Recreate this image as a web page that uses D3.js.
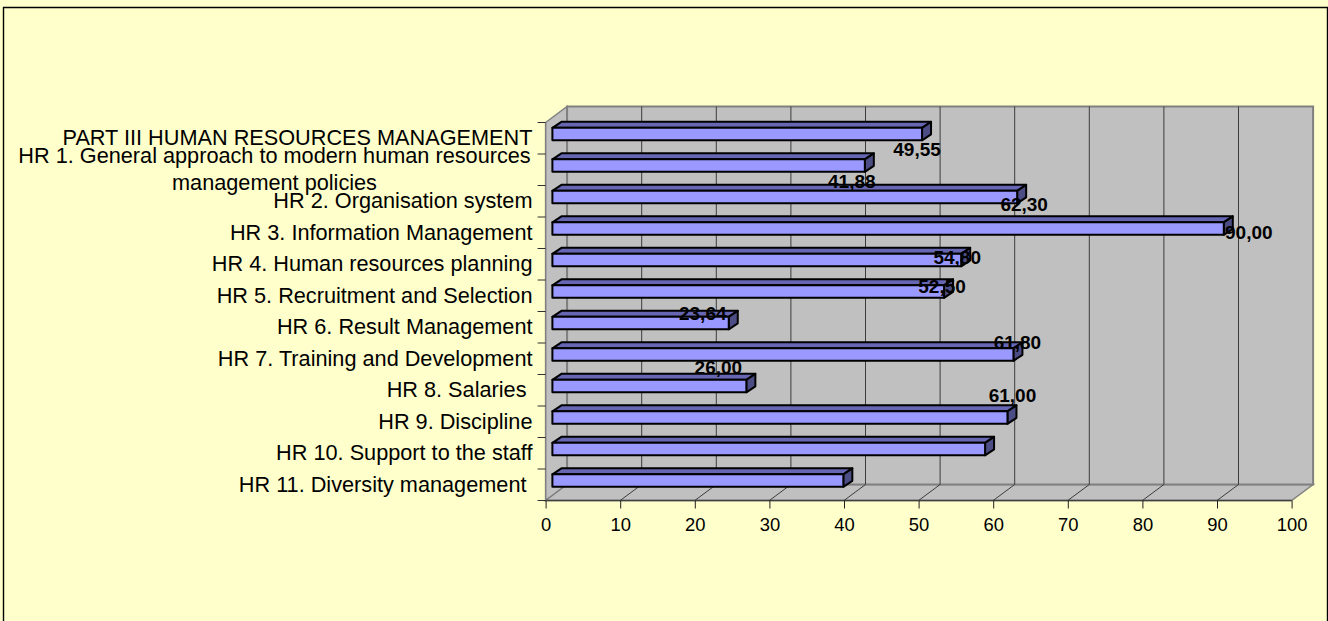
<!DOCTYPE html>
<html>
<head>
<meta charset="utf-8">
<script src="https://d3js.org/d3.v7.min.js"></script>
<style>
html, body { margin: 0; padding: 0; background: #fff; }
svg { display: block; }
text { font-family: "Liberation Sans", Arial, sans-serif; fill: #000; }
</style>
</head>
<body>
<div id="chart"></div>
<script>
var categories = [
    "PART III HUMAN RESOURCES MANAGEMENT",
    "HR 1. General approach to modern human resources management policies",
    "HR 2. Organisation system",
    "HR 3. Information Management",
    "HR 4. Human resources planning",
    "HR 5. Recruitment and Selection",
    "HR 6. Result Management",
    "HR 7. Training and Development",
    "HR 8. Salaries ",
    "HR 9. Discipline",
    "HR 10. Support to the staff",
    "HR 11. Diversity management "
];
var values = [49.55, 41.88, 62.30, 90.00, 54.80, 52.50, 23.64, 61.80, 26.00, 61.00, 58, 39];
// the last two bars have no data label in the picture
var valueLabels = ["49,55", "41,88", "62,30", "90,00", "54,80", "52,50", "23,64", "61,80", "26,00", "61,00", "", ""];
var xTicks = [0, 10, 20, 30, 40, 50, 60, 70, 80, 90, 100];

// hand placed data labels, offset from the bar end [dx, dy]
var labelNudge = [[-5, 15], [-13, 16], [7, 7], [25, 4], [-4, -3], [-2, -5], [-26, -10], [4, -12], [-28, -19], [5, -22], [0, 0], [0, 0]];

var w = 1328;
var h = 621;
var depthX = 21.5;   // wall offset
var depthY = -16;
var barDX = 9;       // bar depth
var barDY = -6;
var barH = 12.5;

var xScale = d3.scaleLinear().domain([0, 100]).range([545.6, 1291.6]);
var yScale = d3.scaleBand().domain(d3.range(categories.length)).range([122.5, 500.5]);

var svg = d3.select("#chart").append("svg").attr("width", w).attr("height", h);

// frame
svg.append("rect").attr("width", w).attr("height", h).attr("fill", "#ffffcc");
svg.append("path")
    .attr("d", "M3.5," + h + "V7.5H1327.5V" + h)
    .attr("fill", "none")
    .attr("stroke", "#000")
    .attr("stroke-width", 1.4);

var x0 = xScale(0), x1 = xScale(100), yTop = yScale.range()[0], yBot = yScale.range()[1];

// walls and floor
var wallStroke = "#808080";
svg.append("polygon")
    .attr("points", [[x0, yTop], [x0 + depthX, yTop + depthY], [x0 + depthX, yBot + depthY], [x0, yBot]].join(" "))
    .attr("fill", "#c0c0c0").attr("stroke", wallStroke).attr("stroke-width", 1.5);
svg.append("polygon")
    .attr("points", [[x0, yBot], [x0 + depthX, yBot + depthY], [x1 + depthX, yBot + depthY], [x1, yBot]].join(" "))
    .attr("fill", "#c0c0c0").attr("stroke", wallStroke).attr("stroke-width", 1.5);
svg.append("polygon")
    .attr("points", [[x0 + depthX, yTop + depthY], [x1 + depthX, yTop + depthY], [x1 + depthX, yBot + depthY], [x0 + depthX, yBot + depthY]].join(" "))
    .attr("fill", "#c0c0c0").attr("stroke", wallStroke).attr("stroke-width", 2);

// gridlines on the back wall and floor
var inner = xTicks.slice(1, -1);
svg.selectAll(".grid").data(inner).enter().append("line")
    .attr("class", "grid")
    .attr("x1", function(d) { return xScale(d) + depthX; })
    .attr("x2", function(d) { return xScale(d) + depthX; })
    .attr("y1", yTop + depthY)
    .attr("y2", yBot + depthY)
    .attr("stroke", "#3c3c3c");
svg.selectAll(".floor").data(inner).enter().append("line")
    .attr("class", "floor")
    .attr("x1", function(d) { return xScale(d); })
    .attr("x2", function(d) { return xScale(d) + depthX; })
    .attr("y1", yBot)
    .attr("y2", yBot + depthY)
    .attr("stroke", "#3c3c3c");

// front axis lines
svg.append("line").attr("x1", x0).attr("x2", x1).attr("y1", yBot).attr("y2", yBot).attr("stroke", "#404040").attr("stroke-width", 1.4);
svg.append("line").attr("x1", x0).attr("x2", x0).attr("y1", yTop).attr("y2", yBot).attr("stroke", "#808080").attr("stroke-width", 1.2);

// x axis
var xAxis = d3.axisBottom(xScale).tickValues(xTicks).tickSize(8).tickPadding(9);
var gx = svg.append("g").attr("transform", "translate(0," + yBot + ")").call(xAxis);
gx.select(".domain").remove();
gx.selectAll("line").attr("stroke", "#202020");
gx.selectAll("text").style("font-family", '"Liberation Sans", Arial, sans-serif').style("font-size", "18.4px");

// y ticks sit on the band edges
svg.selectAll(".ytick").data(d3.range(categories.length + 1)).enter().append("line")
    .attr("class", "ytick")
    .attr("x1", x0 - 8)
    .attr("x2", x0)
    .attr("y1", function(d) { return yTop + d * yScale.step(); })
    .attr("y2", function(d) { return yTop + d * yScale.step(); })
    .attr("stroke", "#303030");

// category labels
var catSize = "21.7px";
var lineBreak = 1; // this one wraps onto two lines in the reference
var breakAt = categories[lineBreak].indexOf(" management");
svg.selectAll(".cat").data(categories).enter().append("text")
    .attr("class", "cat")
    .attr("x", 532.5)
    .attr("y", function(d, i) { return yScale(i) + yScale.bandwidth() / 2 + 7; })
    .attr("text-anchor", "end")
    .style("font-size", catSize)
    .style("white-space", "pre")
    .text(function(d, i) { return i === lineBreak ? "" : d; });

var wrapped = svg.append("text")
    .attr("text-anchor", "middle")
    .style("font-size", catSize);
wrapped.selectAll("tspan").data([categories[lineBreak].slice(0, breakAt), categories[lineBreak].slice(breakAt + 1)]).enter().append("tspan")
    .attr("x", 274.5)
    .attr("y", function(d, i) { return yScale(lineBreak) + yScale.bandwidth() / 2 - 7 + i * 27; })
    .text(function(d) { return d; });

// 3d bars
var barLeft = x0 + 6.8;
function barEnd(v) { return barLeft + xScale(v) - x0; }
function barTop(i) { return yScale(i) + yScale.bandwidth() / 2 - 4.2 - barH / 2; }

var bars = svg.selectAll(".bar").data(values).enter().append("g").attr("class", "bar")
    .attr("stroke", "#000")
    .attr("stroke-width", 2)
    .attr("stroke-linejoin", "round");

bars.append("polygon")
    .attr("fill", "#6666b3")
    .attr("points", function(d, i) {
        var e = barEnd(d), t = barTop(i);
        return [[barLeft, t], [barLeft + barDX, t + barDY], [e + barDX, t + barDY], [e, t]].join(" ");
    });
bars.append("polygon")
    .attr("fill", "#4d4d85")
    .attr("points", function(d, i) {
        var e = barEnd(d), t = barTop(i);
        return [[e, t], [e + barDX, t + barDY], [e + barDX, t + barDY + barH], [e, t + barH]].join(" ");
    });
bars.append("rect")
    .attr("fill", "#9999ff")
    .attr("x", barLeft)
    .attr("y", function(d, i) { return barTop(i); })
    .attr("width", function(d) { return barEnd(d) - barLeft; })
    .attr("height", barH);

// data labels
svg.selectAll(".val").data(valueLabels).enter().append("text")
    .attr("class", "val")
    .attr("text-anchor", "middle")
    .attr("x", function(d, i) { return barEnd(values[i]) + labelNudge[i][0]; })
    .attr("y", function(d, i) { return barTop(i) + barH / 2 + labelNudge[i][1] + 6.8; })
    .style("font-size", "19px")
    .style("font-weight", "bold")
    .text(function(d) { return d; });
</script>
</body>
</html>
